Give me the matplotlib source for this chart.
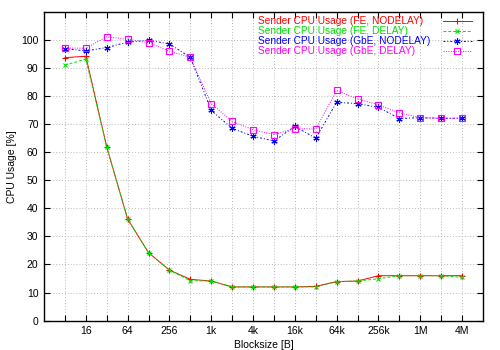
import matplotlib
matplotlib.use("Agg")
import matplotlib.pyplot as plt
import numpy as np
from matplotlib.ticker import FixedLocator, NullFormatter

plt.rcParams['font.family'] = ['Liberation Sans', 'DejaVu Sans']

blocksizes = [8, 16, 32, 64, 128, 256, 512, 1024, 2048, 4096, 8192, 16384, 32768,
              65536, 131072, 262144, 524288, 1048576, 2097152, 4194304]

fe_nodelay = [93.7, 94.2, 61.9, 36.2, 24.2, 18.0, 14.7, 14.1, 12.0, 12.0, 12.0, 12.0, 12.2,
              13.9, 14.1, 16.0, 16.0, 16.0, 16.0, 16.0]
fe_delay = [91.0, 93.2, 61.9, 36.2, 24.2, 18.0, 14.2, 14.1, 12.0, 12.0, 12.0, 12.0, 12.0,
            13.9, 14.1, 14.9, 16.0, 16.0, 16.0, 15.4]
gbe_nodelay = [96.9, 96.1, 97.3, 99.2, 99.9, 98.6, 93.8, 74.9, 68.5, 65.7, 64.0, 69.2, 65.0,
               77.8, 77.3, 76.0, 72.0, 72.3, 72.1, 72.1]
gbe_delay = [97.1, 97.1, 101.1, 100.3, 99.0, 96.0, 93.8, 77.3, 71.0, 68.0, 66.3, 68.4, 68.3,
             82.0, 79.0, 76.9, 74.0, 72.3, 72.1, 72.1]

labels = ["Sender CPU Usage (FE, NODELAY)", "Sender CPU Usage (FE, DELAY)",
          "Sender CPU Usage (GbE, NODELAY)", "Sender CPU Usage (GbE, DELAY)"]
tick_vals = [16, 64, 256, 1024, 4096, 16384, 65536, 262144, 1048576, 4194304]
tick_labels = ["16", "64", "256", "1k", "4k", "16k", "64k", "256k", "1M", "4M"]

styles = [
    dict(color='#ff0000', lw=0.7, ls='-', marker='+', ms=5, mew=0.8),
    dict(color='#00e000', lw=0.7, ls=(0, (3, 2)), marker='x', ms=3.5, mew=0.8),
    dict(color='#0000ff', lw=0.7, ls=(0, (2, 2, 1, 2)), marker=(6, 2, 0), ms=4.5, mew=0.8),
    dict(color='#ff00ff', lw=0.7, ls=(0, (1, 1.5)), marker='s', ms=5, mew=0.8, mfc='none'),
]
series = [fe_nodelay, fe_delay, gbe_nodelay, gbe_delay]

fig = plt.figure(figsize=(5, 3.5), dpi=100)
ax = fig.add_axes([0.088, 0.084, 0.878, 0.882])

for vals, st, lab in zip(series, styles, labels):
    ax.plot(blocksizes, vals, label=lab, **st)

ax.set_xscale('log', base=2)
ax.set_xlim(4, 8388608)
ax.set_ylim(0, 110)
ax.xaxis.set_major_locator(FixedLocator(tick_vals))
ax.set_xticklabels(tick_labels)
ax.xaxis.set_minor_locator(FixedLocator([2 ** k for k in range(3, 23, 2)]))
ax.xaxis.set_minor_formatter(NullFormatter())
ax.set_yticks(range(0, 101, 10))

ax.grid(True, which='both', color='#b8b8b8', ls=(0, (1, 2)), lw=0.7)
ax.tick_params(which='both', direction='in', top=True, right=True, labelsize=7.5, length=4, width=0.8, pad=4)
for s in ax.spines.values():
    s.set_linewidth(1.0)

ax.set_xlabel("Blocksize [B]", fontsize=7.5, labelpad=3)
ax.set_ylabel("CPU Usage [%]", fontsize=7.5, labelpad=3)

# gnuplot-style key: left-aligned coloured text, sample on the right
inv = ax.transAxes.inverted()
def fig_px_to_axes(x, y):
    return inv.transform(fig.dpi_scale_trans.transform((x / 100, (350 - y) / 100)))

for i, (st, lab) in enumerate(zip(styles, labels)):
    yp = 20.5 + 10 * i
    tx, ty = fig_px_to_axes(258, yp)
    ax.text(tx, ty, lab, color=st['color'], fontsize=7.3, ha='left', va='center',
            transform=ax.transAxes)
    x0, y0 = fig_px_to_axes(443, yp)
    x1, _ = fig_px_to_axes(472, yp)
    xm, _ = fig_px_to_axes(457.5, yp)
    line_st = {k: v for k, v in st.items() if k not in ('marker', 'ms', 'mew', 'mfc')}
    ax.plot([x0, x1], [y0, y0], transform=ax.transAxes, clip_on=False, **line_st)
    mk_st = {k: v for k, v in st.items() if k in ('color', 'marker', 'ms', 'mew', 'mfc')}
    ax.plot([xm], [y0], transform=ax.transAxes, clip_on=False, ls='none', **mk_st)

fig.savefig("out.png", dpi=100)
